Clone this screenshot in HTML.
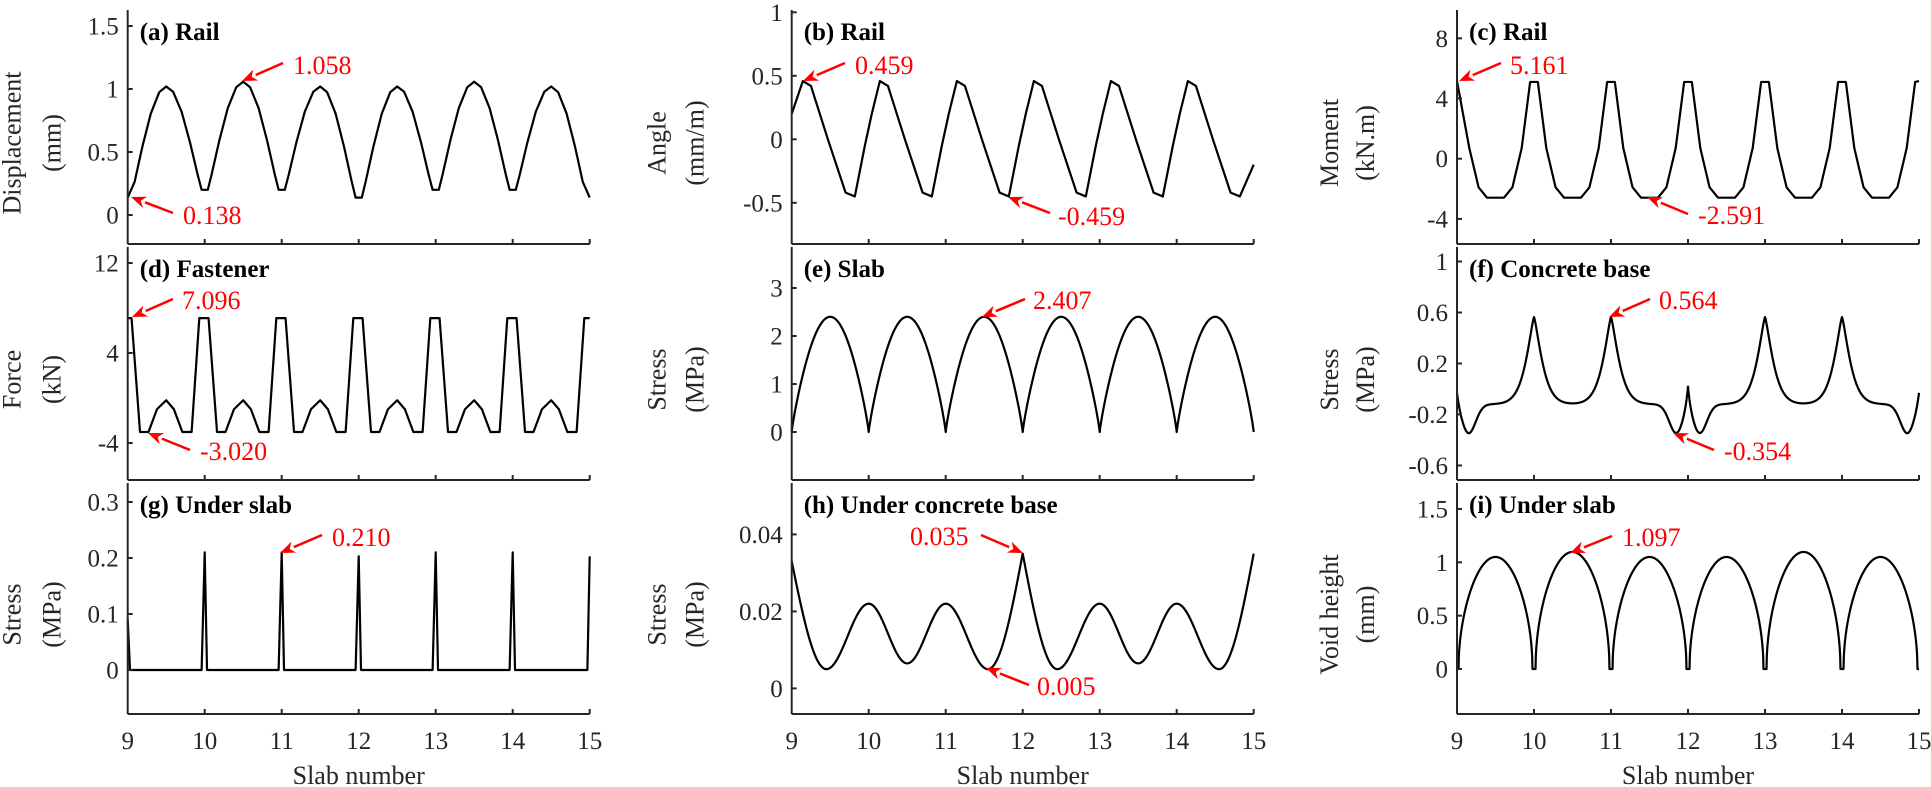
<!DOCTYPE html>
<html><head><meta charset="utf-8">
<style>
html,body{margin:0;padding:0;background:#fff;}
svg{display:block;}
text{font-family:"Liberation Serif","DejaVu Serif",serif;}
</style></head>
<body>
<svg id="s" width="1931" height="787" viewBox="0 0 1931 787" xmlns="http://www.w3.org/2000/svg" font-family="'Liberation Serif','DejaVu Serif',serif"></svg>
<script>
const S=document.getElementById('s');
const NS='http://www.w3.org/2000/svg';
const FF="'Liberation Serif','DejaVu Serif',serif";
function el(n,a,t){const e=document.createElementNS(NS,n);for(const k in a)e.setAttribute(k,a[k]);if(n==='text')e.setAttribute('font-family',FF);if(t!==undefined)e.textContent=t;S.appendChild(e);return e;}
const AX='#262626';
const cols=[127.7,791.7,1457];
const rows=[[10,244],[247,480],[483,714]];
const SP=77;
function X(c,v){return cols[c]+(v-9)*SP;}
const panels=[
 {c:0,r:0,title:'(a) Rail',yl:['Displacement','(mm)'],ticks:[[0,'0'],[0.5,'0.5'],[1,'1'],[1.5,'1.5']],y:v=>215-v*126},
 {c:1,r:0,title:'(b) Rail',yl:['Angle','(mm/m)'],ticks:[[-0.5,'-0.5'],[0,'0'],[0.5,'0.5'],[1,'1']],y:v=>139.3-v*127},
 {c:2,r:0,title:'(c) Rail',yl:['Moment','(kN.m)'],ticks:[[-4,'-4'],[0,'0'],[4,'4'],[8,'8']],y:v=>158.7-v*15.05},
 {c:0,r:1,title:'(d) Fastener',yl:['Force','(kN)'],ticks:[[-4,'-4'],[4,'4'],[12,'12']],y:v=>353-(v-4)*11.25},
 {c:1,r:1,title:'(e) Slab',yl:['Stress','(MPa)'],ticks:[[0,'0'],[1,'1'],[2,'2'],[3,'3']],y:v=>432-v*48},
 {c:2,r:1,title:'(f) Concrete base',yl:['Stress','(MPa)'],ticks:[[-0.6,'-0.6'],[-0.2,'-0.2'],[0.2,'0.2'],[0.6,'0.6'],[1,'1']],y:v=>389-v*127.5},
 {c:0,r:2,title:'(g) Under slab',yl:['Stress','(MPa)'],ticks:[[0,'0'],[0.1,'0.1'],[0.2,'0.2'],[0.3,'0.3']],y:v=>670-v*560},
 {c:1,r:2,title:'(h) Under concrete base',yl:['Stress','(MPa)'],ticks:[[0,'0'],[0.02,'0.02'],[0.04,'0.04']],y:v=>688.4-v*3850},
 {c:2,r:2,title:'(i) Under slab',yl:['Void height','(mm)'],ticks:[[0,'0'],[0.5,'0.5'],[1,'1'],[1.5,'1.5']],y:v=>669-v*106.7},
];
const lblOff=[[-116,-76],[-135,-97],[-128,-92]];
function dense(f,n){const p=[];for(let i=0;i<=n;i++){const x=9+6*i/n;p.push([x,f(x)]);}return p;}
const D={};
(function(){const P=[1.02,1.058,1.02,1.02,1.058,1.02],M=[0.138,0.2,0.2,0.138,0.2,0.2,0.138];const p=[[9,0.138]];
const T=[0.09,0.19,0.3,0.41,0.5,0.59,0.7,0.81,0.91];
for(let i=0;i<6;i++){for(const t of T){const L=t<=0.5?M[i]:M[i+1];const y=L+(P[i]-L)*Math.pow(Math.sin(Math.PI*Math.min(1,Math.max(0,(t-0.04)/0.92))),1.1);p.push([9+i+t,y]);}
 if(i<5){p.push([9+i+0.96,M[i+1]],[9+i+1.04,M[i+1]]);}}
p.push([15,0.138]);D[0]=p;})();
(function(){const p=[[9.0,0.2]];const T=[[0.145,0.459],[0.25,0.42],[0.47,0],[0.70,-0.42],[0.82,-0.45],[0.95,-0.05],[1.04,0.2]];
for(let i=0;i<6;i++){for(const [t,v] of T){if(i==5&&t>0.9)continue;p.push([9+i+t,v]);}}p.push([15,-0.2]);D[1]=p;})();
(function(){const p=[[9,5.161]];const T=[[0.16,0.7],[0.28,-1.9],[0.39,-2.59],[0.61,-2.59],[0.72,-1.9],[0.84,0.7],[0.95,5.1],[1.05,5.1]];
for(let i=0;i<6;i++){for(const [t,v] of T){if(i==5&&t>1)continue;p.push([9+i+t,v]);}}p.push([15,5.161]);D[2]=p;})();
(function(){const p=[[9,7.1],[9.05,7.1]];const T=[[0.16,-3.02],[0.27,-3.02],[0.38,-1.0],[0.5,-0.2],[0.6,-1.0],[0.71,-3.02],[0.83,-3.02],[0.93,7.1],[1.05,7.1]];
for(let i=0;i<6;i++){for(const [t,v] of T){if(i==5&&t>1)continue;p.push([9+i+t,v]);}}p.push([15,7.1]);D[3]=p;})();
D[4]=dense(x=>{const t=x-Math.floor(x);return 2.4*Math.pow(Math.abs(Math.sin(Math.PI*t)),0.85);},1200);
D[5]=dense(x=>{let v=-0.12;for(const k of [10,11,13,14])v+=0.684*Math.exp(-Math.pow(Math.abs(x-k)/0.14,1.3));
for(const c of [9.15,11.85,12.15,14.85])v-=0.23*Math.exp(-Math.pow((x-c)/0.13,2));
v+=0.15*Math.exp(-Math.abs(x-9)/0.04)+0.26*Math.exp(-Math.abs(x-12)/0.04)+0.15*Math.exp(-Math.abs(x-15)/0.04);return v;},1500);
(function(){const p=[[9,0.09],[9.03,0]];const P={10:0.21,11:0.21,12:0.203,13:0.21,14:0.21};
for(let k=10;k<=14;k++){p.push([k-0.04,0],[k,P[k]],[k+0.03,0]);}p.push([14.97,0],[15,0.203]);D[6]=p;})();
(function(){const E=[[9,0.033,1],[9.45,0.005],[10,0.022],[10.5,0.0065],[11,0.022],[11.55,0.005],[12,0.035,1],[12.45,0.005],[13,0.022],[13.5,0.0065],[14,0.022],[14.55,0.005],[15,0.035,1]];
const p=[];for(let i=0;i<E.length-1;i++){const a=E[i],b=E[i+1];for(let k=0;k<60;k++){const u=k/60;let s;
if(b[2])s=1-Math.cos(Math.PI/2*u);else if(a[2])s=Math.sin(Math.PI/2*u);else s=(1-Math.cos(Math.PI*u))/2;
p.push([a[0]+(b[0]-a[0])*u,a[1]+(b[1]-a[1])*s]);}}p.push([15,0.035]);D[7]=p;})();
(function(){const P=[1.05,1.097,1.05,1.05,1.097,1.05];D[8]=dense(x=>{let i=Math.min(5,Math.floor(x-9));const t=x-9-i;
const tt=Math.max(0,Math.min(1,(t-0.02)/0.96));return P[i]*Math.pow(Math.sin(Math.PI*tt),0.5);},1800);})();

panels.forEach((p,idx)=>{
 const x0=cols[p.c],[t,b]=rows[p.r];
 const pts=D[idx].map(([x,v])=>X(p.c,x).toFixed(2)+','+p.y(v).toFixed(2)).join(' ');
 el('polyline',{points:pts,fill:'none',stroke:'#000','stroke-width':2.2,'stroke-linejoin':'round'});
 el('line',{x1:x0,y1:t,x2:x0,y2:b,stroke:AX,'stroke-width':2});
 el('line',{x1:x0,y1:b,x2:x0+6*SP,y2:b,stroke:AX,'stroke-width':2});
 for(let k=1;k<=6;k++){const xx=x0+k*SP;el('line',{x1:xx,y1:b,x2:xx,y2:b-5,stroke:AX,'stroke-width':2});}
 p.ticks.forEach(([v,s])=>{const yy=p.y(v);el('line',{x1:x0,y1:yy,x2:x0+5,y2:yy,stroke:AX,'stroke-width':2});
  el('text',{x:x0-9,y:yy+8.5,'text-anchor':'end','font-size':25,fill:AX},s);});
 el('text',{x:x0+12,y:t+30,'font-size':25,'font-weight':'bold',fill:'#000'},p.title);
 const cy=(t+b)/2+16;const o=lblOff[p.c];
 el('text',{x:0,y:0,'font-size':26,fill:AX,'text-anchor':'middle',transform:`translate(${x0+o[0]+9},${cy}) rotate(-90)`},p.yl[0]);
 el('text',{x:0,y:0,'font-size':26,fill:AX,'text-anchor':'middle',transform:`translate(${x0+o[1]+9},${cy}) rotate(-90)`},p.yl[1]);
 if(p.r==2){for(let k=0;k<=6;k++){el('text',{x:x0+k*SP,y:749,'text-anchor':'middle','font-size':25,fill:AX},String(9+k));}
  el('text',{x:x0+3*SP,y:784,'text-anchor':'middle','font-size':26,fill:AX},'Slab number');}
});
const A=[
 ['1.058',293,74,283,63,242,81],['0.138',183,224,173,213,131,197],
 ['7.096',182,309,173,299,132,317],['-3.020',200,460,190,450,148,433],
 ['0.210',332,546,322,535,280,553],
 ['0.459',855,74,845,63,803,81],['-0.459',1058,225,1050,213,1008,197],
 ['2.407',1033,309,1025,299,982,317],
 ['0.035',910,545,981,535,1023,553],['0.005',1037,695,1029,685,986,668],
 ['5.161',1510,74,1501,63,1459,81],['-2.591',1698,224,1688,214,1647,197],
 ['0.564',1659,309,1650,299,1609,317],['-0.354',1724,460,1714,450,1673,433],
 ['1.097',1622,546,1612,536,1570,553]];
A.forEach(([s,tx,ty,x1,y1,x2,y2])=>{
 el('text',{x:tx,y:ty,'font-size':26,fill:'#ff0000'},s);
 const dx=x2-x1,dy=y2-y1,L=Math.hypot(dx,dy),ux=dx/L,uy=dy/L;const hl=15,hw=6;
 const bx=x2-ux*hl,by=y2-uy*hl;
 el('line',{x1:x1,y1:y1,x2:bx,y2:by,stroke:'#ff0000','stroke-width':2.5});
 el('polygon',{points:`${x2},${y2} ${bx-uy*hw},${by+ux*hw} ${x2-ux*hl*0.7},${y2-uy*hl*0.7} ${bx+uy*hw},${by-ux*hw}`,fill:'#ff0000'});
});
</script>
</body></html>
